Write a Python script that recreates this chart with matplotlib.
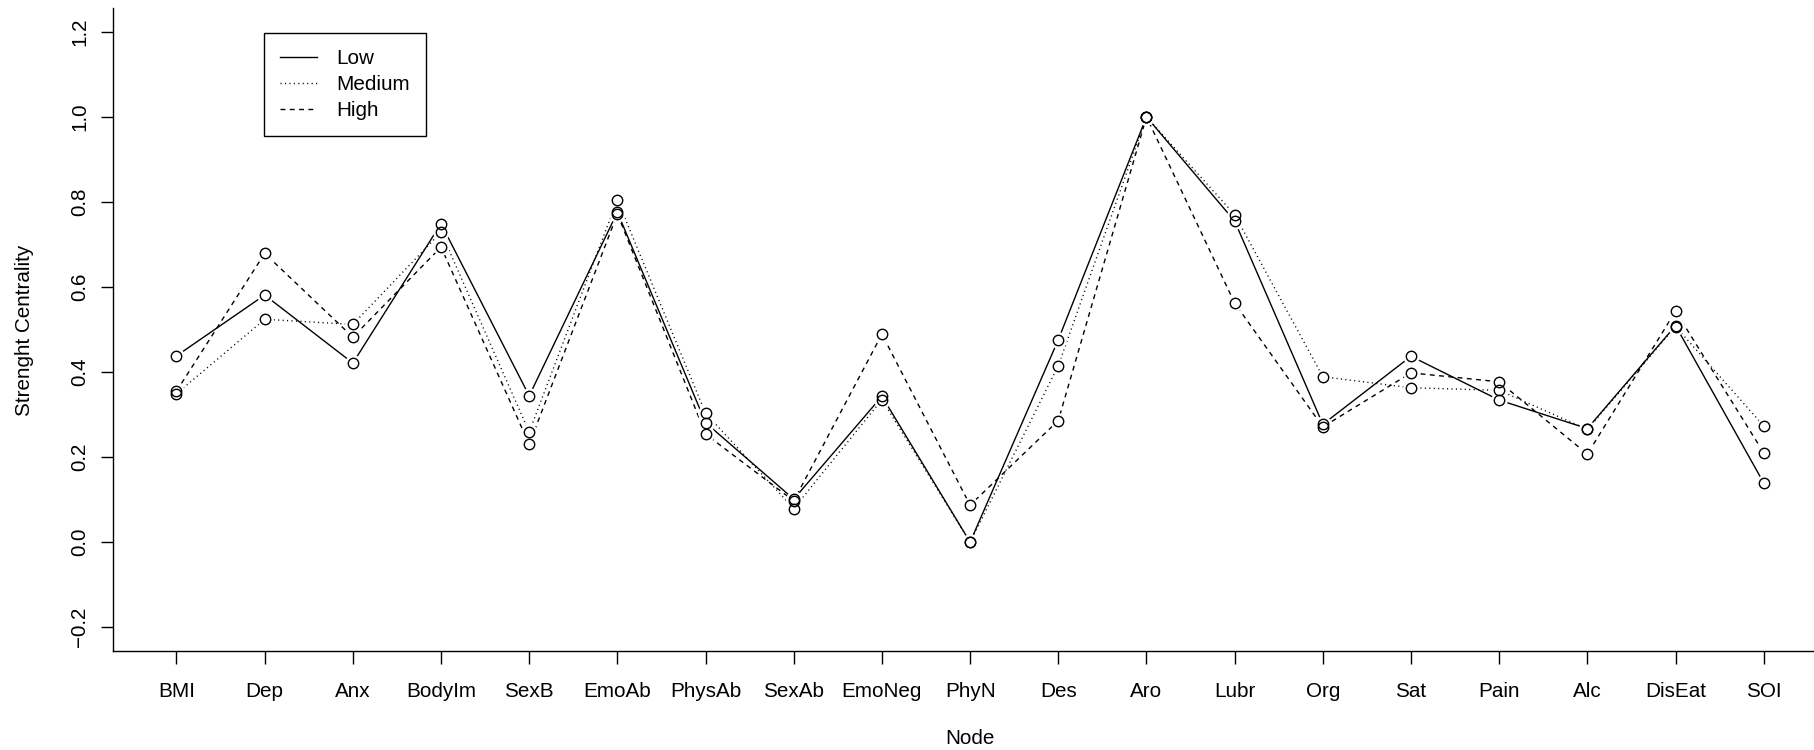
import numpy as np
import matplotlib.pyplot as plt

plt.rcParams['font.family'] = ['Liberation Sans', 'DejaVu Sans']

nodes = ['BMI', 'Dep', 'Anx', 'BodyIm', 'SexB', 'EmoAb', 'PhysAb', 'SexAb',
         'EmoNeg', 'PhyN', 'Des', 'Aro', 'Lubr', 'Org', 'Sat', 'Pain', 'Alc',
         'DisEat', 'SOI']

low = [0.438, 0.581, 0.421, 0.749, 0.344, 0.776, 0.281, 0.101, 0.343, 0.000,
       0.476, 1.000, 0.755, 0.277, 0.437, 0.334, 0.267, 0.509, 0.139]
medium = [0.349, 0.524, 0.512, 0.729, 0.259, 0.805, 0.303, 0.079, 0.335, 0.000,
          0.415, 1.000, 0.770, 0.389, 0.363, 0.357, 0.265, 0.507, 0.273]
high = [0.355, 0.679, 0.482, 0.694, 0.230, 0.772, 0.254, 0.097, 0.489, 0.087,
        0.286, 1.000, 0.562, 0.271, 0.398, 0.377, 0.207, 0.543, 0.210]

groups = ['Low', 'Medium', 'High']
styles = ['-', (0, (0.8, 2.4)), (0, (3.5, 3.2))]
series = [low, medium, high]

FS = 14.9
W, H = 1814, 750
fig = plt.figure(figsize=(W / 100, H / 100), dpi=100)
ax = fig.add_axes([113 / W, (H - 651) / H, 1 - 113 / W, (651 - 8) / H])

x = np.arange(1, len(nodes) + 1)

# lines first, then white discs to open gaps like R's type="b", then open circles
for vals, ls, name in zip(series, styles, groups):
    ax.plot(x, vals, color='black', linestyle=ls, linewidth=1.0, label=name,
            zorder=2)
for vals in series:
    ax.plot(x, vals, linestyle='none', marker='o', markersize=12,
            markerfacecolor='white', markeredgecolor='none', zorder=3)
for vals in series:
    ax.plot(x, vals, linestyle='none', marker='o', markersize=7.5,
            markerfacecolor='none', markeredgecolor='black',
            markeredgewidth=1.0, zorder=4)

ax.set_xlim(0.28, 19.57)
ax.set_ylim(-0.256, 1.256)
ax.set_xticks(x)
ax.set_xticklabels(nodes, fontsize=FS)
yt = np.arange(-0.2, 1.21, 0.2)
ax.set_yticks(yt)
ax.set_yticklabels([f'{v:.1f}'.replace('-', '\u2212') for v in yt],
                   fontsize=FS, rotation=90, va='center')
ax.tick_params(direction='out', length=9, width=1.0)
ax.tick_params(axis='x', pad=13)
ax.tick_params(axis='y', pad=8)

for side in ['top', 'right']:
    ax.spines[side].set_visible(False)
for side in ['left', 'bottom']:
    ax.spines[side].set_linewidth(1.0)

fig.text(838 / 1568, 1 - 738 / H, 'Node', ha='center', va='center', fontsize=FS)
fig.text(25 / W, (H - 330) / H, 'Strenght Centrality', ha='center', va='center',
         rotation=90, fontsize=FS)

leg = ax.legend(loc='upper left', bbox_to_anchor=(264 / W, (H - 33) / H),
                bbox_transform=fig.transFigure, fontsize=FS, frameon=True,
                fancybox=False, edgecolor='black', framealpha=1,
                borderpad=0.78, handlelength=1.8, handletextpad=0.92,
                labelspacing=0.34, borderaxespad=0)
leg.get_frame().set_linewidth(1.0)

fig.savefig('out.png', dpi=100)
